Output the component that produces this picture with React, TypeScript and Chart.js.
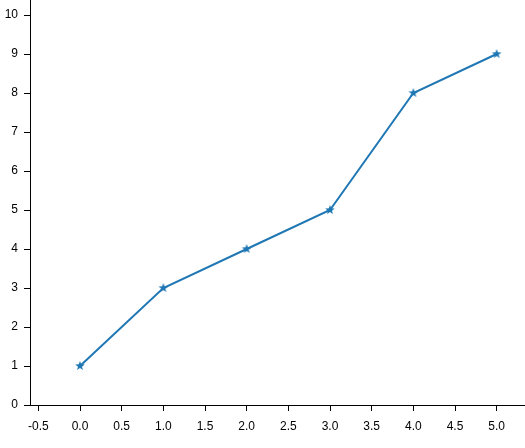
import React, { useEffect, useRef } from "react";
import { Chart, registerables } from "chart.js";

Chart.register(...registerables);

const xValues = [0, 1, 2, 3, 4, 5];
const yValues = [1, 3, 4, 5, 8, 9];
const xTicks = [-0.5, 0, 0.5, 1, 1.5, 2, 2.5, 3, 3.5, 4, 4.5, 5];
const yTicks = [0, 1, 2, 3, 4, 5, 6, 7, 8, 9, 10];

const LINE_COLOR = "#1f77b4";

function makeStar(color: string, outer: number, inner: number): HTMLCanvasElement {
  const size = Math.ceil(outer * 2 + 2);
  const c = document.createElement("canvas");
  c.width = size;
  c.height = size;
  const ctx = c.getContext("2d")!;
  const cx = size / 2;
  const cy = size / 2;
  ctx.beginPath();
  for (let i = 0; i < 10; i++) {
    const r = i % 2 === 0 ? outer : inner;
    const a = -Math.PI / 2 + (i * Math.PI) / 5;
    const px = cx + r * Math.cos(a);
    const py = cy + r * Math.sin(a);
    if (i === 0) ctx.moveTo(px, py);
    else ctx.lineTo(px, py);
  }
  ctx.closePath();
  ctx.fillStyle = color;
  ctx.fill();
  return c;
}

export default function App() {
  const ref = useRef<HTMLCanvasElement | null>(null);

  useEffect(() => {
    if (!ref.current) return;
    const star = makeStar(LINE_COLOR, 5, 2.1);
    const font = { family: "'Liberation Sans', Arial, sans-serif", size: 12 };
    const chart = new Chart(ref.current, {
      type: "line",
      data: {
        datasets: [
          {
            data: xValues.map((x, i) => ({ x, y: yValues[i] })),
            borderColor: LINE_COLOR,
            backgroundColor: LINE_COLOR,
            borderWidth: 2,
            pointStyle: star as any,
            pointRadius: 5,
            tension: 0,
            fill: false,
          },
        ],
      },
      options: {
        responsive: false,
        animation: false,
        devicePixelRatio: 1,
        layout: { padding: 0, autoPadding: false },
        plugins: { legend: { display: false }, tooltip: { enabled: false } },
        scales: {
          x: {
            type: "linear",
            min: -0.6,
            max: 5.34,
            afterBuildTicks: (s: any) => {
              s.ticks = xTicks.map((v) => ({ value: v }));
            },
            afterFit: (s: any) => {
              s.height = 43;
              s.paddingLeft = 0;
              s.paddingRight = 0;
            },
            grid: {
              drawOnChartArea: false,
              drawTicks: true,
              tickLength: 6,
              color: "#000",
              lineWidth: 1,
            },
            border: { display: true, color: "#000", width: 1 },
            ticks: {
              color: "#000",
              font,
              padding: 8,
              maxRotation: 0,
              autoSkip: false,
              callback: (v: any) => Number(v).toFixed(1),
            },
          },
          y: {
            type: "linear",
            min: 0,
            max: 10.385,
            afterBuildTicks: (s: any) => {
              s.ticks = yTicks.map((v) => ({ value: v }));
            },
            afterFit: (s: any) => {
              s.width = 30;
              s.paddingTop = 0;
              s.paddingBottom = 0;
            },
            grid: {
              drawOnChartArea: false,
              drawTicks: true,
              tickLength: 6,
              color: "#000",
              lineWidth: 1,
            },
            border: { display: true, color: "#000", width: 1 },
            ticks: {
              color: "#000",
              font,
              padding: 6,
              autoSkip: false,
              callback: (v: any) => String(v),
            },
          },
        },
      },
    });
    return () => chart.destroy();
  }, []);

  return (
    <div style={{ position: "fixed", left: 0, top: 0, width: 525, height: 448, background: "#fff" }}>
      <canvas ref={ref} width={525} height={448} style={{ width: 525, height: 448 }} />
    </div>
  );
}
